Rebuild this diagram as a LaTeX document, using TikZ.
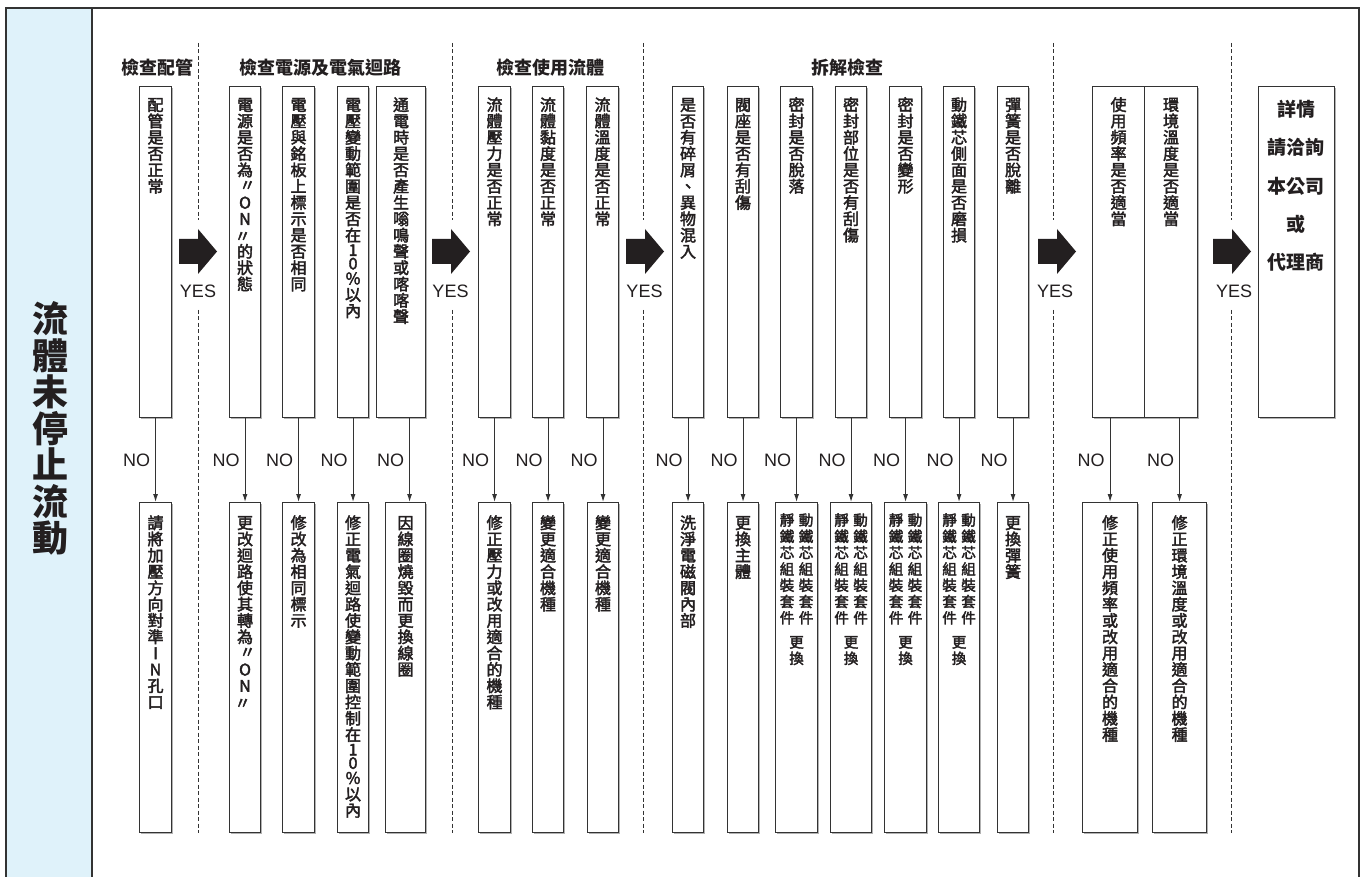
\documentclass[tikz,border=0pt]{standalone}
\usepackage{fontspec}
\setmainfont{Noto Sans CJK TC}
\newfontfamily\med[FakeBold=2.5]{Noto Sans CJK TC}
\newfontfamily\lat{Liberation Sans}
\usetikzlibrary{arrows.meta,shadows}
\definecolor{ink}{HTML}{231F20}
\definecolor{frame}{HTML}{333333}
\definecolor{panel}{RGB}{223,242,250}

\newlength\vA \newlength\vD \newlength\lA \newlength\lD
\def\VEND{\VEND}
\def\vendref{\VEND}
\newcommand\vstack[2]{\vbox{\offinterlineskip\vD=.12em\relax\vA=\dimexpr#1-\vD\relax\lA=.8em\relax\lD=.04em\relax\vsl#2\VEND}}
\def\vsl#1{\def\vtmp{#1}\ifx\vtmp\vendref\else\vitem{#1}\expandafter\vsl\fi}
\def\vitem#1{\setbox0\hbox{#1}\ifdim\wd0>.9em\relax\hbox to 0pt{\hss\vrule width0pt height\vA depth\vD\box0\hss}\else\hbox to 0pt{\hss\vrule width0pt height\lA depth\lD\box0\hss}\fi}
\newcommand\qo{\makebox[1em]{\hspace{.3em}\raisebox{.08em}{〃}}}
\newcommand\qc{\makebox[1em]{\raisebox{-.05em}{〃}\hspace{.3em}}}
\newcommand\fw[1]{\makebox[1em]{#1}}

\tikzset{
  box/.style={draw=frame, line width=1.1pt, fill=white, inner sep=0pt, anchor=north west,
    drop shadow={shadow xshift=1pt, shadow yshift=-1pt, fill=black!30, opacity=1}},
  vtxt/.style={inner sep=0pt, text=ink, font=\med\fontsize{16}{16}\selectfont},
  vtxtb/.style={inner sep=0pt, text=ink, font=\med\fontsize{14.5}{14.5}\selectfont},
  hdr/.style={inner sep=0pt, text=ink, font=\bfseries\fontsize{18}{18}\selectfont},
  fin/.style={inner sep=0pt, text=ink, font=\bfseries\fontsize{19}{19}\selectfont},
  yes/.style={inner sep=0pt, text=ink, font=\lat\fontsize{18}{18}\selectfont},
  nolab/.style={midway, left, inner sep=5pt, text=ink, font=\lat\fontsize{18}{18}\selectfont},
  conn/.style={draw=frame, line width=1pt, -{Latex[length=8pt,width=5pt]}},
  dashline/.style={draw=frame, line width=0.9pt, dash pattern=on 4pt off 2.5pt},
  blockarrow/.style={fill=ink},
}

\newcommand\TB[4]{%
  \node[box, minimum width=#3pt-#2pt, minimum height=331pt] (#1) at (#2,86) {};
  \node[vtxt, anchor=north] (#1l) at ([yshift=-10.2pt]#1.north) {\vstack{16.3pt}{#4}};}
\newcommand\BB[4]{%
  \node[box, minimum width=#3pt-#2pt, minimum height=330pt] (#1) at (#2,502) {};
  \node[vtxt, anchor=north] (#1l) at ([yshift=-12.2pt]#1.north) {\vstack{16.3pt}{#4}};}
\newcommand\DB[3]{%
  \node[box, minimum width=#3pt-#2pt, minimum height=330pt] (#1) at (#2,502) {};
  \node[vtxtb, anchor=north] (#1r) at ([xshift=9.5pt,yshift=-8.8pt]#1.north) {\vstack{16.3pt}{動鐵芯組裝套件}};
  \node[vtxtb, anchor=north] (#1m) at ([xshift=-9.5pt,yshift=-8.8pt]#1.north) {\vstack{16.3pt}{靜鐵芯組裝套件}};
  \node[vtxtb, anchor=north] (#1e) at ([yshift=-130.8pt]#1.north) {\vstack{16.3pt}{更換}};}
\newcommand\CN[3][0pt]{%
  \draw[conn] ([xshift=#1]#3.north |- #2.south) -- ([xshift=#1]#3.north) node[nolab] (#3no) {NO};}
\newcommand\BA[1]{%
  \fill[blockarrow] (#1,239) -- (#1+19,239) -- (#1+19,229) -- (#1+38,251.5) -- (#1+19,274) -- (#1+19,264) -- (#1,264) -- cycle;}
\newcommand\DL[1]{%
  \draw[dashline] (#1,43) -- (#1,220) (#1,310) -- (#1,833);}

\begin{document}
\begin{tikzpicture}[x=1pt,y=-1pt]
\useasboundingbox (0,0) rectangle (1363,877);
\fill[white] (0,0) rectangle (1363,877);
% frame and left panel
\fill[panel] (6,8) rectangle (92,877);
\draw[frame, line width=1.2pt] (6,877) -- (6,8) -- (1359,8) -- (1359,877);
\draw[frame, line width=1.2pt] (92,8) -- (92,877);
\node[anchor=north, inner sep=0pt, text=ink, font=\bfseries\fontsize{36}{36}\selectfont] (title) at (50,300.4) {\vstack{36.5pt}{流體未停止流動}};

% dashed separators
\DL{198} \DL{452} \DL{643} \DL{1053} \DL{1231}

% section headers
\node[hdr] (h1) at (157,68) {檢查配管};
\node[hdr] (h2) at (320,68) {檢查電源及電氣迴路};
\node[hdr] (h3) at (550,68) {檢查使用流體};
\node[hdr] (h4) at (847,68) {拆解檢查};

% top boxes
\TB{t1}{139}{171}{配管是否正常}
\TB{t2}{229}{260}{電源是否為\qo{\fw O}{\fw N}\qc 的狀態}
\TB{t3}{282}{314}{電壓與銘板上標示是否相同}
\TB{t4}{337}{368}{電壓變動範圍是否在10\%以內}
\TB{t5}{376}{425}{通電時是否產生嗡鳴聲或喀喀聲}
\TB{t6}{478}{510}{流體壓力是否正常}
\TB{t7}{532}{563}{流體黏度是否正常}
\TB{t8}{586}{618}{流體溫度是否正常}
\TB{t9}{672}{703}{是否有碎屑、異物混入}
\TB{t10}{727}{758}{閥座是否有刮傷}
\TB{t11}{780}{812}{密封是否脫落}
\TB{t12}{835}{866}{密封部位是否有刮傷}
\TB{t13}{889}{921}{密封是否變形}
\TB{t14}{943}{974}{動鐵芯側面是否磨損}
\TB{t15}{997}{1028}{彈簧是否脫離}
\TB{t16}{1092}{1144}{使用頻率是否適當}
\TB{t17}{1144}{1197}{環境溫度是否適當}
\node[box, minimum width=76pt, minimum height=331pt] (t18) at (1258,86) {};
\node[fin] (f1) at (1296,109) {詳情};
\node[fin] (f2) at (1296,147) {請洽詢};
\node[fin] (f3) at (1296,186) {本公司};
\node[fin] (f4) at (1296,224) {或};
\node[fin] (f5) at (1296,262) {代理商};

% bottom boxes
\BB{b1}{139}{171}{請將加壓方向對準{\fw I}{\fw N}孔口}
\BB{b2}{229}{260}{更改迴路使其轉為\qo{\fw O}{\fw N}\qc}
\BB{b3}{282}{314}{修改為相同標示}
\BB{b4}{337}{368}{修正電氣迴路使變動範圍控制在10\%以內}
\BB{b5}{385}{425}{因線圈燒毀而更換線圈}
\BB{b6}{478}{510}{修正壓力或改用適合的機種}
\BB{b7}{532}{563}{變更適合機種}
\BB{b8}{587}{618}{變更適合機種}
\BB{b9}{672}{703}{洗淨電磁閥內部}
\BB{b10}{727}{758}{更換主體}
\DB{b11}{775}{817}
\DB{b12}{830}{871}
\DB{b13}{884}{926}
\DB{b14}{938}{979}
\BB{b15}{997}{1028}{更換彈簧}
\BB{b16}{1082}{1137}{修正使用頻率或改用適合的機種}
\BB{b17}{1152}{1206}{修正環境溫度或改用適合的機種}

% NO connectors
\CN{t1}{b1} \CN{t2}{b2} \CN{t3}{b3} \CN{t4}{b4} \CN[4pt]{t5}{b5}
\CN{t6}{b6} \CN{t7}{b7} \CN{t8}{b8}
\CN{t9}{b9} \CN{t10}{b10} \CN{t11}{b11} \CN{t12}{b12} \CN{t13}{b13} \CN{t14}{b14} \CN{t15}{b15}
\CN{t16}{b16} \CN{t17}{b17}

% YES block arrows
\BA{179} \BA{432} \BA{626} \BA{1038} \BA{1213}
\node[yes] (y1) at (198,291) {YES};
\node[yes] (y2) at (450.5,291) {YES};
\node[yes] (y3) at (644.5,291) {YES};
\node[yes] (y4) at (1055,291) {YES};
\node[yes] (y5) at (1234,291) {YES};
\end{tikzpicture}
\end{document}
